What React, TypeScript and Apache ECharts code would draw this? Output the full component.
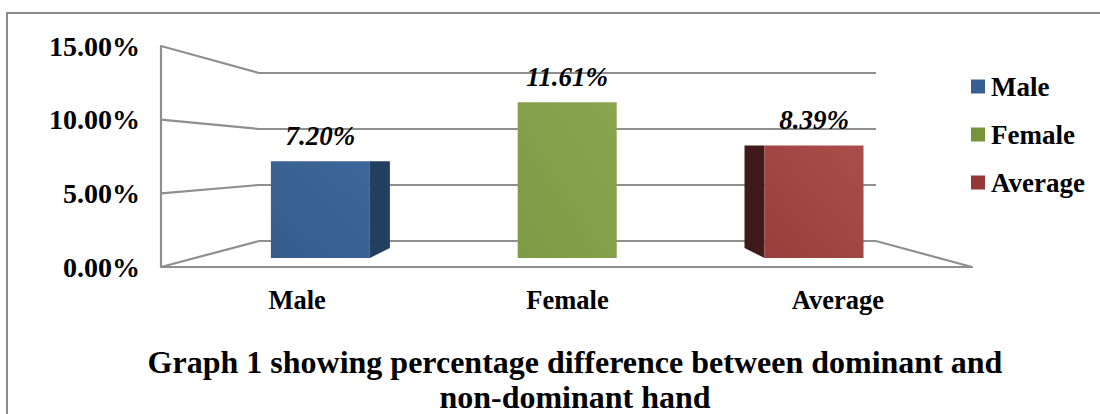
import React, { useEffect, useRef } from "react";
import * as echarts from "echarts";

const categories = ["Male", "Female", "Average"];
const seriesValues = [7.2, 11.61, 8.39];
const legendColors = ["#376092", "#77933c", "#953735"];
const barLight = ["#3d6798", "#8aa54f", "#aa4e4b"];
const barDark = ["#355d8d", "#7d9a44", "#9a3e3b"];
const sideColors = ["#223f60", "#7f9c46", "#40191a"];
const sideDirections = [1, 0, -1];
const yTicks = [0, 5, 10, 15];
const titleLines = ["Graph 1 showing percentage difference between dominant and", "non-dominant hand"];

const FONT = '"Liberation Serif", "Times New Roman", serif';
const LINE = "#8f8f8f";

export default function App() {
  const ref = useRef<HTMLDivElement>(null);
  useEffect(() => {
    const chart = echarts.init(ref.current!, null, { renderer: "svg" });
    const left = 161, right = 972, baseY = 267, backL = 259, backR = 876;
    const backRatio = 56 / 73.67;
    const barRatio = 13.42 / 14.73;
    chart.setOption({
      animation: false,
      backgroundColor: "#fff",
      graphic: [
        { type: "rect", silent: true, z: 0, shape: { x: 7, y: 13, width: 1120, height: 440 }, style: { fill: "none", stroke: "#8c8c8c", lineWidth: 2 } },
        ...titleLines.map((t, i) => ({
          type: "text",
          z: 5,
          style: { text: t, x: 575, y: 362 + i * 34.5, fill: "#000", font: `bold 32px ${FONT}`, textAlign: "center", textVerticalAlign: "middle" },
        })),
      ],
      legend: {
        show: true,
        orient: "vertical",
        left: 966,
        top: 68,
        itemWidth: 14,
        itemHeight: 14,
        itemGap: 21,
        icon: "rect",
        selectedMode: false,
        textStyle: { fontFamily: FONT, fontWeight: "bold", fontSize: 27, color: "#000", padding: [0, 0, 0, 1] },
        data: categories.map((name, i) => ({ name, itemStyle: { color: legendColors[i] } })),
      },
      grid: { left, right: 1100 - right, top: 46, height: baseY - 46 },
      xAxis: {
        type: "category",
        data: categories,
        axisTick: { show: false },
        axisLine: { show: true, lineStyle: { color: LINE, width: 2.2 } },
        axisLabel: { color: "#000", fontFamily: FONT, fontWeight: "bold", fontSize: 26.5, margin: 19, padding: [0, 0, 0, 2] },
      },
      yAxis: {
        type: "value",
        min: 0,
        max: 15,
        interval: 5,
        splitLine: { show: false },
        axisTick: { show: false },
        axisLine: { show: true, lineStyle: { color: LINE, width: 2.2 } },
        axisLabel: { color: "#000", fontFamily: FONT, fontWeight: "bold", fontSize: 28, margin: 21, padding: [3, 0, 0, 0], formatter: (v: number) => v.toFixed(2) + "%" },
      },
      series: [
        {
          type: "custom",
          name: "walls",
          silent: true,
          z: 1,
          data: yTicks.map((v) => [0, v]),
          encode: { x: 0, y: 1 },
          renderItem: (_p: any, api: any) => {
            const y = api.coord([0, api.value(1)])[1];
            const backY = 241 - (baseY - y) * backRatio;
            const points = [[left, y], [backL, backY], [backR, backY]];
            if (api.value(1) === 0) points.push([right, y]);
            return { type: "polyline", shape: { points }, style: { fill: "none", stroke: LINE, lineWidth: 2.2 } };
          },
        },
        ...categories.map((name, i) => ({
          type: "custom",
          name,
          z: 3,
          color: legendColors[i],
          data: [[i, seriesValues[i]]],
          encode: { x: 0, y: 1 },
          renderItem: (_p: any, api: any) => {
            const p = api.coord([api.value(0), api.value(1)]);
            const top = 258 - (baseY - p[1]) * barRatio;
            const cx = 567.2 + (p[0] - 566.5) * (246.5 / 270);
            const fx0 = cx - 49.5;
            const fx1 = cx + 49.5;
            const dir = sideDirections[i];
            const children: any[] = [];
            if (dir !== 0) {
              const ex = dir > 0 ? fx1 : fx0;
              children.push({
                type: "polygon",
                shape: { points: [[ex, top], [ex + dir * 20, top], [ex + dir * 20, 248], [ex, 258]] },
                style: { fill: sideColors[i] },
              });
            }
            children.push({
              type: "rect",
              shape: { x: fx0, y: top, width: 99, height: 258 - top },
              style: {
                fill: new echarts.graphic.LinearGradient(1, 0, 0, 1, [
                  { offset: 0, color: barLight[i] },
                  { offset: 1, color: barDark[i] },
                ]),
              },
            });
            children.push({
              type: "text",
              style: {
                text: api.value(1).toFixed(2) + "%",
                x: cx,
                y: top - 25.5,
                fill: "#000",
                font: `italic bold 27px ${FONT}`,
                textAlign: "center",
                textVerticalAlign: "middle",
              },
            });
            return { type: "group", children };
          },
        })),
      ],
    });
    return () => chart.dispose();
  }, []);
  return <div ref={ref} style={{ position: "fixed", left: 0, top: 0, width: 1100, height: 414 }} />;
}
